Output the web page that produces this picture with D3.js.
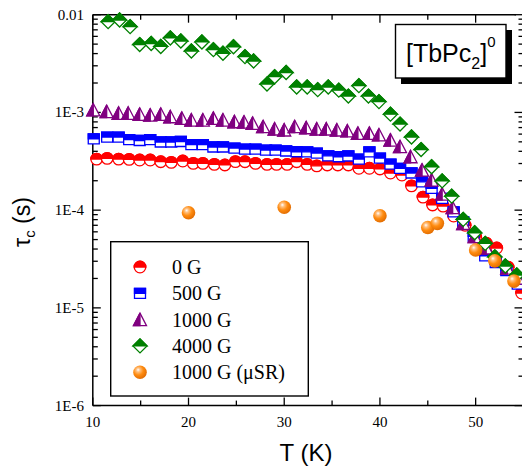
<!DOCTYPE html>
<html>
<head>
<meta charset="utf-8">
<script src="https://cdn.jsdelivr.net/npm/d3@7"></script>
<style>
  body { margin: 0; background: #fff; }
  svg { display: block; }
</style>
</head>
<body>
<svg id="chart" width="522" height="467"></svg>
<script>
// 0 G
var T_0G = [10.4, 11.5, 12.7, 13.8, 14.9, 16.0, 17.1, 18.2, 19.4, 20.5, 21.5, 22.7, 23.8, 24.9, 25.9, 27.0, 28.2, 29.2, 30.3, 31.3, 32.4, 33.4, 34.5, 35.6, 36.7, 37.8, 38.9, 40.0, 41.1, 42.3, 43.3, 44.5, 45.5, 46.6, 47.7, 48.9, 50.0, 51.1, 52.2, 53.4, 54.8];
var tau_0G = [3.33e-4, 3.39e-4, 3.33e-4, 3.31e-4, 3.26e-4, 3.26e-4, 3.13e-4, 3.08e-4, 3.18e-4, 3.01e-4, 3.01e-4, 2.94e-4, 2.90e-4, 3.14e-4, 3.13e-4, 3.01e-4, 2.94e-4, 2.94e-4, 2.94e-4, 3.13e-4, 2.94e-4, 2.84e-4, 2.90e-4, 2.90e-4, 2.90e-4, 2.68e-4, 2.68e-4, 2.64e-4, 2.40e-4, 2.29e-4, 1.77e-4, 1.36e-4, 1.13e-4, 1.10e-4, 8.7e-5, 7.0e-5, 5.3e-5, 4.6e-5, 4.1e-5, 2.6e-5, 1.42e-5];

// 500 G
var T_500G = [10.1, 11.5, 12.7, 13.8, 14.9, 16.0, 17.1, 18.2, 19.2, 20.3, 21.5, 22.6, 23.6, 24.8, 25.9, 27.0, 28.1, 29.1, 30.2, 31.3, 32.4, 33.4, 34.6, 35.7, 36.7, 37.8, 38.9, 40.0, 41.1, 42.1, 43.3, 44.4, 45.4, 46.5, 47.7, 48.7, 49.8, 51.0, 52.1, 53.2, 54.4];
var tau_500G = [5.35e-4, 5.6e-4, 5.6e-4, 5.28e-4, 5.16e-4, 5.28e-4, 4.98e-4, 4.98e-4, 5.04e-4, 4.69e-4, 4.69e-4, 4.43e-4, 4.43e-4, 4.32e-4, 4.22e-4, 4.22e-4, 4.12e-4, 4.12e-4, 4.03e-4, 3.96e-4, 3.95e-4, 3.84e-4, 3.6e-4, 3.52e-4, 3.58e-4, 3.33e-4, 3.94e-4, 3.41e-4, 2.96e-4, 2.68e-4, 2.4e-4, 1.95e-4, 1.67e-4, 1.32e-4, 9.6e-5, 7.6e-5, 5.4e-5, 3.4e-5, 2.9e-5, 2.4e-5, 1.75e-5];

// 1000 G
var T_1000G = [10.05, 11.45, 12.7, 13.7, 14.9, 16.0, 17.1, 18.1, 19.3, 20.3, 21.5, 22.6, 23.6, 24.8, 25.8, 26.7, 27.8, 29.0, 30.0, 31.1, 32.3, 33.4, 34.4, 35.5, 36.6, 37.7, 38.9, 39.9, 41.1, 42.1, 43.2, 44.4, 45.4, 46.5, 47.6, 48.7, 49.9, 51.1, 52.2, 53.3, 54.4];
var tau_1000G = [1.06e-3, 1.02e-3, 9.8e-4, 9.8e-4, 9.57e-4, 9.4e-4, 9.57e-4, 9.03e-4, 8.7e-4, 8.36e-4, 8.36e-4, 8.7e-4, 8.36e-4, 8.03e-4, 7.97e-4, 7.73e-4, 7.14e-4, 6.77e-4, 6.61e-4, 7.14e-4, 6.97e-4, 6.77e-4, 6.77e-4, 6.61e-4, 6.46e-4, 6.11e-4, 6.11e-4, 5.88e-4, 5.21e-4, 4.46e-4, 3.52e-4, 2.57e-4, 2.03e-4, 1.46e-4, 1.06e-4, 7.3e-5, 5.35e-5, 4.1e-5, 3.24e-5, 2.55e-5, 2.02e-5];

// 4000 G
var T_4000G = [11.6, 12.8, 13.9, 14.9, 16.1, 17.1, 18.1, 19.2, 20.3, 21.4, 22.6, 23.6, 24.7, 25.9, 26.8, 28.2, 29.0, 30.2, 31.3, 32.4, 33.5, 34.6, 35.7, 36.7, 37.8, 38.8, 39.9, 41.1, 42.1, 43.3, 44.3, 45.4, 46.5, 47.5, 48.7, 49.9, 51.0, 52.0, 53.1, 54.3];
var tau_4000G = [8.48e-3, 8.83e-3, 7.54e-3, 4.95e-3, 5.07e-3, 4.73e-3, 5.78e-3, 5.38e-3, 4.25e-3, 5.26e-3, 4.39e-3, 4.03e-3, 4.70e-3, 3.72e-3, 3.36e-3, 1.95e-3, 2.32e-3, 2.56e-3, 1.82e-3, 1.82e-3, 1.71e-3, 1.82e-3, 1.69e-3, 1.47e-3, 1.88e-3, 1.47e-3, 1.29e-3, 9.6e-4, 7.6e-4, 5.6e-4, 4.17e-4, 2.78e-4, 1.99e-4, 1.39e-4, 8.05e-5, 5.87e-5, 4.57e-5, 3.33e-5, 2.68e-5, 2.17e-5];

// 1000 G (muSR)
var T_muSR = [20, 30, 40, 45, 46, 50, 52, 54];
var tau_muSR = [9.4e-5, 1.07e-4, 8.77e-5, 6.64e-5, 7.33e-5, 3.91e-5, 3.03e-5, 1.88e-5];

var seriesNames = ["0 G", "500 G", "1000 G", "4000 G", "1000 G (\u03bcSR)"];
var xTicks = [10, 20, 30, 40, 50];
var xMinor = [15, 25, 35, 45, 55];
var yTicks = [1e-6, 1e-5, 1e-4, 1e-3, 1e-2];
var yTickLabels = ["1E-6", "1E-5", "1E-4", "1E-3", "0.01"];

var svg = d3.select("#chart");
var serif = "'Liberation Serif', 'Times New Roman', serif";
var sans = "'Liberation Sans', Arial, sans-serif";

var x = d3.scaleLinear().domain([10, 55]).range([92.8, 523.5]);
var y = d3.scaleLog().domain([1e-6, 1e-2]).range([405.6, 14.7]);

// sphere gradient for the muSR points
var defs = svg.append("defs");
var grad = defs.append("radialGradient").attr("id", "sphere")
    .attr("cx", "40%").attr("cy", "38%").attr("r", "65%").attr("fx", "36%").attr("fy", "32%");
grad.append("stop").attr("offset", "0%").attr("stop-color", "#ffffff");
grad.append("stop").attr("offset", "22%").attr("stop-color", "#ffc080");
grad.append("stop").attr("offset", "55%").attr("stop-color", "#ff8c10");
grad.append("stop").attr("offset", "100%").attr("stop-color", "#e06a00");

// axes
var yMinor = [];
[1e-6, 1e-5, 1e-4, 1e-3].forEach(function(d) {
    for (var k = 2; k <= 9; k++) yMinor.push(d * k);
});

var gAx = svg.append("g").attr("stroke", "#000").attr("stroke-width", 1.5);
gAx.append("line").attr("x1", x(10)).attr("x2", 523).attr("y1", y(1e-6)).attr("y2", y(1e-6));
gAx.append("line").attr("x1", x(10)).attr("x2", 516).attr("y1", y(1e-2)).attr("y2", y(1e-2));
gAx.append("line").attr("x1", x(10)).attr("x2", x(10)).attr("y1", y(1e-2)).attr("y2", y(1e-6));

var gT = svg.append("g").attr("stroke", "#000").attr("stroke-width", 1.3);
xTicks.forEach(function(d) {
    gT.append("line").attr("x1", x(d)).attr("x2", x(d)).attr("y1", y(1e-6)).attr("y2", y(1e-6) - 8);
    gT.append("line").attr("x1", x(d)).attr("x2", x(d)).attr("y1", y(1e-2)).attr("y2", y(1e-2) + 8);
});
xMinor.forEach(function(d) {
    gT.append("line").attr("x1", x(d)).attr("x2", x(d)).attr("y1", y(1e-6)).attr("y2", y(1e-6) - 5);
    gT.append("line").attr("x1", x(d)).attr("x2", x(d)).attr("y1", y(1e-2)).attr("y2", y(1e-2) + 5);
});
yTicks.forEach(function(d) {
    gT.append("line").attr("x1", x(10)).attr("x2", x(10) + 8).attr("y1", y(d)).attr("y2", y(d));
    gT.append("line").attr("x1", x(55)).attr("x2", x(55) - 9).attr("y1", y(d)).attr("y2", y(d));
});
yMinor.forEach(function(d) {
    gT.append("line").attr("x1", x(10)).attr("x2", x(10) + 5).attr("y1", y(d)).attr("y2", y(d));
    gT.append("line").attr("x1", x(55)).attr("x2", x(55) - 5).attr("y1", y(d)).attr("y2", y(d));
});

svg.append("g").selectAll("text").data(xTicks).join("text")
    .attr("x", function(d) { return x(d); })
    .attr("y", 427)
    .attr("text-anchor", "middle")
    .attr("font-family", serif).attr("font-size", 15)
    .text(function(d) { return d; });

svg.append("g").selectAll("text").data(yTicks).join("text")
    .attr("x", 84)
    .attr("y", function(d) { return y(d) + 5; })
    .attr("text-anchor", "end")
    .attr("font-family", serif).attr("font-size", 15)
    .text(function(d, i) { return yTickLabels[i]; });

svg.append("text")
    .attr("x", 306).attr("y", 461)
    .attr("text-anchor", "middle")
    .attr("font-family", sans).attr("font-size", 24)
    .text("T (K)");

var yt = svg.append("text")
    .attr("transform", "translate(30,222) rotate(-90)")
    .attr("text-anchor", "middle")
    .attr("font-family", sans).attr("font-size", 23);
yt.append("tspan").text("\u03c4");
yt.append("tspan").attr("font-size", 15).attr("dy", 5).text("c");
yt.append("tspan").attr("dy", -5).text(" (s)");

// half filled markers
var shapes = {
    circle: { full: "M-5.8,0A5.8,5.8 0 1 1 5.8,0A5.8,5.8 0 1 1 -5.8,0Z", half: "M-5.8,0A5.8,5.8 0 0 1 5.8,0Z" },
    square: { full: "M-5.5,-5H5.5V5H-5.5Z", half: "M-5.5,-5H5.5V0H-5.5Z" },
    triangle: { full: "M0,-6.5L6.5,6L-6.5,6Z", half: "M0,-6.5L-6.5,6L0,6Z" },
    diamond: { full: "M0,-7L7,0L0,7L-7,0Z", half: "M-7,0L0,-7L7,0Z" }
};

function halfMarker(g, shape, color) {
    g.append("path").attr("d", shapes[shape].full)
        .attr("fill", "#fff").attr("stroke", color).attr("stroke-width", 1.3);
    g.append("path").attr("d", shapes[shape].half)
        .attr("fill", color).attr("stroke", color).attr("stroke-width", 1.3);
}

function sphere(g) {
    g.append("circle").attr("r", 6.8).attr("fill", "url(#sphere)");
}

var series = [
    { T: T_0G, tau: tau_0G, shape: "circle", color: "#ff0000" },
    { T: T_500G, tau: tau_500G, shape: "square", color: "#0000ff" },
    { T: T_1000G, tau: tau_1000G, shape: "triangle", color: "#800080" },
    { T: T_4000G, tau: tau_4000G, shape: "diamond", color: "#008000" },
    { T: T_muSR, tau: tau_muSR, shape: "sphere", color: "#ff8c00" }
];

series.forEach(function(s) {
    var pts = s.T.map(function(t, i) { return [t, s.tau[i]]; });
    svg.append("g").selectAll("g").data(pts).join("g")
        .attr("transform", function(d) { return "translate(" + x(d[0]) + "," + y(d[1]) + ")"; })
        .each(function() {
            if (s.shape === "sphere") sphere(d3.select(this));
            else halfMarker(d3.select(this), s.shape, s.color);
        });
});

// legend
svg.append("rect").attr("x", 110.7).attr("y", 241.7).attr("width", 197.6).attr("height", 154.3)
    .attr("fill", "#fff").attr("stroke", "#000").attr("stroke-width", 1.4);
series.forEach(function(s, i) {
    var ly = 267 + i * 26.3;
    var g = svg.append("g").attr("transform", "translate(140," + ly + ")");
    if (s.shape === "sphere") sphere(g);
    else halfMarker(g, s.shape, s.color);
    svg.append("text").attr("x", 172).attr("y", ly + 7)
        .attr("font-family", serif).attr("font-size", 20)
        .text(seriesNames[i]);
});

// compound label with shadow
svg.append("rect").attr("x", 401).attr("y", 30).attr("width", 111).attr("height", 54).attr("fill", "#000");
svg.append("rect").attr("x", 395.5).attr("y", 24.5).attr("width", 110.5).attr("height", 53.5)
    .attr("fill", "#fff").attr("stroke", "#000").attr("stroke-width", 1.4);
var lab = svg.append("text").attr("x", 406).attr("y", 62)
    .attr("font-family", sans).attr("font-size", 25);
lab.append("tspan").text("[TbPc");
lab.append("tspan").attr("font-size", 16).attr("dy", 7).text("2");
lab.append("tspan").attr("dy", -7).text("]");
lab.append("tspan").attr("font-size", 15).attr("dy", -15).text("0");
</script>
</body>
</html>
